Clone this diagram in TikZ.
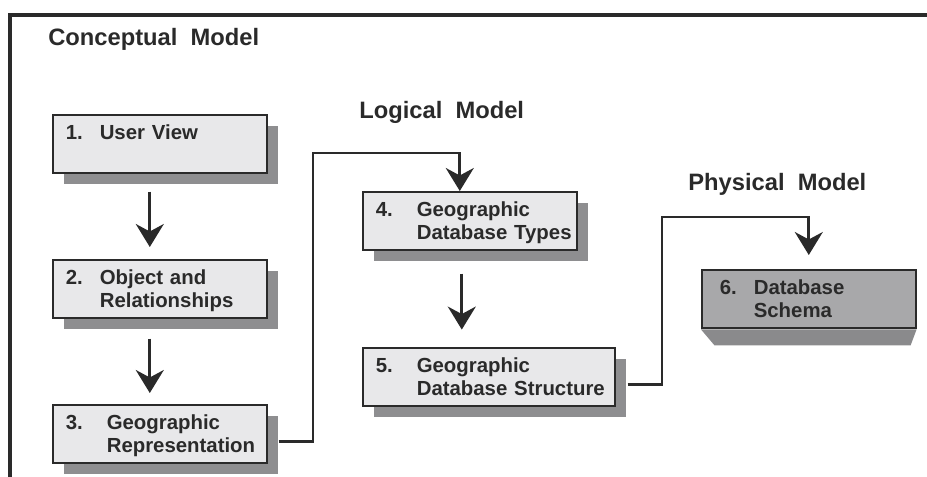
\documentclass[tikz,border=0pt]{standalone}
\usepackage{fontspec}
\setmainfont{Liberation Sans}
\usetikzlibrary{arrows.meta,shadows}
\newlength\px \setlength\px{0.02cm}
\definecolor{ink}{HTML}{2A2A2A}
\definecolor{boxfill}{HTML}{E8E8EA}
\definecolor{shadowgray}{HTML}{8E8E90}
\definecolor{schemafill}{HTML}{A8A8AA}
\definecolor{schemashade}{HTML}{8A8A8C}
\newcommand{\steptext}[3][34]{\begin{tabular}[t]{@{}p{#1\px}@{}l@{}}#2 & #3\end{tabular}}

\begin{document}
\begin{tikzpicture}[x=1\px,y=-1\px,
  stepbase/.style={draw=ink,line width=0.9pt,anchor=north west,align=left,text=ink,
    inner xsep=13\px,inner ysep=0pt,text height=25\px,text depth=33\px,text width=188\px,
    font=\bfseries\fontsize{11.6}{13}\selectfont},
  stepbox/.style={stepbase,fill=boxfill,general shadow={shadow xshift=11\px,shadow yshift=-11\px,fill=shadowgray}},
  schemabox/.style={stepbase,fill=schemafill,inner xsep=18\px,text width=178\px},
  title/.style={anchor=base west,inner sep=0pt,text=ink,font=\bfseries\fontsize{13.5}{16}\selectfont},
  flow/.style={draw=ink,line width=1.5pt,-{Stealth[length=0.46cm,width=0.56cm]}}]
\useasboundingbox (0,0) rectangle (927,477);
% frame
\draw[ink,line width=1.8pt] (10,477) -- (10,15) -- (927,15);
% headings
\node[title] (tconc) at (48,45) {Conceptual\ \ Model};
\node[title] (tlog) at (359,118) {Logical\ \ Model};
\node[title] (tphys) at (688,190) {Physical\ \ Model};
% steps
\node[stepbox] (b1) at (52,114) {\steptext{1.}{User View}};
\node[stepbox] (b2) at (52,259) {\steptext{2.}{Object and\\ & Relationships}};
\node[stepbox] (b3) at (52,404) {\steptext[41]{3.}{Geographic\\ & Representation}};
\node[stepbox] (b4) at (362,191) {\steptext[41]{4.}{Geographic\\ & Database Types}};
\node[stepbox,text width=226\px] (b5) at (362,347) {\steptext[41]{5.}{Geographic\\ & Database Structure}};
\node[schemabox] (b6) at (701,269) {\steptext{6.}{Database\\ & Schema}};
\fill[schemashade] ([yshift=-0.5pt]b6.south west) -- ([yshift=-0.5pt]b6.south east) -- ++(-6,16) -- ++(-196,0) -- cycle;
% arrows
\coordinate (up34) at (313,153);
\coordinate (up56) at (662,217);
\draw[flow] ([xshift=-0.2cm,yshift=-0.36cm]b1.south) -- ([xshift=-0.2cm,yshift=0.24cm]b2.north);
\draw[flow] ([xshift=-0.2cm,yshift=-0.4cm]b2.south) -- ([xshift=-0.2cm,yshift=0.22cm]b3.north);
\draw[flow] ([xshift=-0.16cm,yshift=-0.46cm]b4.south) -- ++(0,56);
\draw[flow] ([xshift=0.22cm,yshift=-0.16cm]b3.east) -| (up34) -| ([xshift=-0.2cm]b4.north);
\draw[flow] ([xshift=0.24cm,yshift=-0.16cm]b5.east) -| (up56) -| ([yshift=0.28cm]b6.north);
\end{tikzpicture}
\end{document}
